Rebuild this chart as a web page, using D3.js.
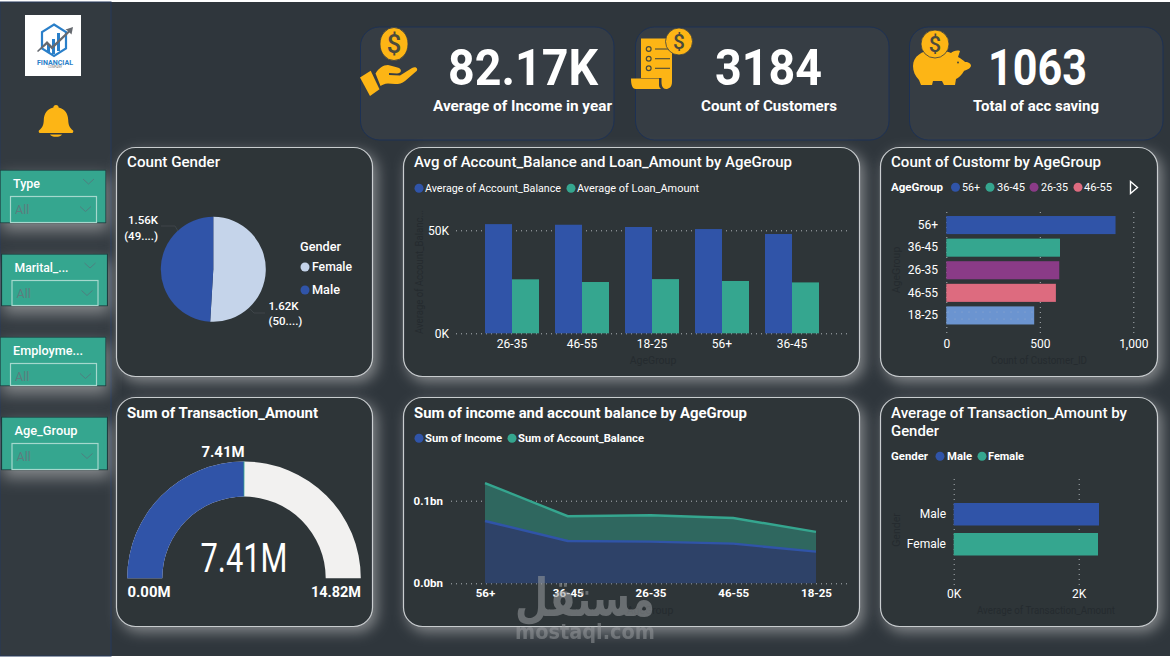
<!DOCTYPE html>
<html>
<head>
<meta charset="utf-8">
<title>Financial dashboard</title>
<script src="https://cdn.jsdelivr.net/npm/d3@7/dist/d3.min.js"></script>
<style>
  html, body { margin: 0; padding: 0; background: #2f363c; overflow: hidden; }
  svg { display: block; font-family: Roboto, "Noto Sans", sans-serif; }
  .domain { display: none; }
</style>
</head>
<body>
<svg id="board" width="1170" height="658"></svg>
<script>
// Dashboard figures
const kpiValues = ["82.17K", "3184", "1063"];
const kpiLabels = ["Average of Income in year", "Count of Customers", "Total of acc saving"];

const slicerNames = ["Type", "Marital_...", "Employme...", "Age_Group"];

const genderNames = ["Female", "Male"];
const genderCounts = [1620, 1560];
const genderCountLabels = ["1.62K", "1.56K"];
const genderShareLabels = ["(50....)", "(49....)"];

const balanceAgeGroups = ["26-35", "46-55", "18-25", "56+", "36-45"];
const avgAccountBalance = [53000, 52700, 51600, 50600, 48200];
const avgLoanAmount = [26200, 24900, 26300, 25400, 24700];

const customerAgeGroups = ["56+", "36-45", "26-35", "46-55", "18-25"];
const customerCounts = [905, 608, 604, 586, 470];

const transactionSum = 7.41;
const transactionMax = 14.82;

const areaAgeGroups = ["56+", "36-45", "26-35", "46-55", "18-25"];
const sumIncome = [0.0754, 0.0512, 0.0504, 0.0480, 0.0383];
const sumBalance = [0.0460, 0.0300, 0.0320, 0.0310, 0.0240];

const transactionGenders = ["Male", "Female"];
const avgTransaction = [2325, 2309];

// Palette
const BLUE = "#3054a8", TEAL = "#35a68f", PURPLE = "#8a3b87", PINK = "#dd6b7f", SKY = "#6b94d0";
const GOLD = "#fdb515", PALE = "#c5d4ea", DIM = "#252b2f", GRID = "#aeb4b8";

const svg = d3.select("#board");
const defs = svg.append("defs");

// Soft light glow that sits behind cards and slicers
const glow = defs.append("filter").attr("id", "glow")
  .attr("x", "-20%").attr("y", "-20%").attr("width", "140%").attr("height", "140%");
glow.append("feDropShadow").attr("dx", 4).attr("dy", 5).attr("stdDeviation", 7)
  .attr("flood-color", "#d8d8d8").attr("flood-opacity", 0.5);

const slicerGlow = defs.append("filter").attr("id", "slicerGlow")
  .attr("x", "-15%").attr("y", "-40%").attr("width", "130%").attr("height", "190%");
slicerGlow.append("feDropShadow").attr("dx", 2).attr("dy", 7).attr("stdDeviation", 8)
  .attr("flood-color", "#d8d8d8").attr("flood-opacity", 0.5);

// Fine dots seen on the lightest bar
const dots = defs.append("pattern").attr("id", "barDots").attr("patternUnits", "userSpaceOnUse")
  .attr("width", 7).attr("height", 7);
dots.append("rect").attr("width", 7).attr("height", 7).attr("fill", SKY);
dots.append("circle").attr("cx", 3).attr("cy", 4).attr("r", 0.6).attr("fill", "#8fa9cf");

// Text helper: w stretches the run to a given width
function label(parent, str, x, y, o = {}) {
  const t = parent.append("text").text(str)
    .attr("x", x).attr("y", y)
    .attr("dominant-baseline", "central")
    .attr("text-anchor", o.anchor || "start")
    .attr("font-size", o.size || 12)
    .attr("font-weight", o.weight || 400)
    .attr("fill", o.fill || "#fff");
  if (o.w) t.attr("textLength", o.w).attr("lengthAdjust", "spacingAndGlyphs");
  if (o.family) t.attr("font-family", o.family);
  if (o.opacity) t.attr("opacity", o.opacity);
  return t;
}

// Legend helper: items are [color, text, dotX, textX, textWidth]
function legend(items, y, o = {}) {
  items.forEach(([color, text, dotX, textX, w]) => {
    svg.append("circle").attr("cx", dotX).attr("cy", y).attr("r", o.r || 4.5).attr("fill", color);
    label(svg, text, textX, y, { size: o.size || 11.5, weight: o.weight || 400, w });
  });
}

function card(x, y, w, h) {
  svg.append("rect").attr("x", x).attr("y", y).attr("width", w).attr("height", h)
    .attr("rx", 19).attr("fill", "#2d3439").attr("stroke", "#c9cdcf").attr("stroke-width", 1.2)
    .attr("filter", "url(#glow)");
}

// Page frame
svg.append("rect").attr("width", 1170).attr("height", 658).attr("fill", "#2f363c");
svg.append("rect").attr("width", 1170).attr("height", 2).attr("fill", "#fff");
svg.append("rect").attr("y", 656).attr("width", 1170).attr("height", 2).attr("fill", "#fff");
svg.append("rect").attr("x", 0).attr("y", 2).attr("width", 111).attr("height", 654)
  .attr("fill", "#333a40").attr("stroke", "#27385a").attr("stroke-width", 1);

// Logo tile
const logo = svg.append("g");
logo.append("rect").attr("x", 25).attr("y", 15).attr("width", 56).attr("height", 61).attr("fill", "#fff");
logo.append("polygon").attr("points", "54,24.5 66,32 66,48.5 54,56 42,48.5 42,32")
  .attr("fill", "none").attr("stroke", "#2a7fc9").attr("stroke-width", 2.2);
logo.append("path").attr("d", "M47 44h3v9h-3zM52 39h3v15h-3zM57 33h3v18h-3z").attr("fill", "#2a7fc9");
logo.append("path").attr("d", "M37 51L47 41L52 46L68 31L65.5 29.5L73 27L71.5 34.5L69.5 32.5L52 49.5L47 44.5L38 52Z").attr("fill", "#666a70");
label(logo, "FINANCIAL", 55, 62, { anchor: "middle", size: 7.5, weight: 700, fill: "#2a7fc9", w: 36 });
label(logo, "COMPANY", 55, 67, { anchor: "middle", size: 3, fill: "#777" });

// Bell
svg.append("path").attr("fill", GOLD)
  .attr("d", "M56 105a2.6 2.6 0 0 1 2.6 2.6c6.6 1.4 9.4 6.5 9.6 12.4c.2 5 1.2 7.7 4.9 10.4c.6 1.3 -.1 2.6 -1.6 2.6h-31c-1.5 0 -2.2 -1.3 -1.6 -2.6c3.7 -2.7 4.7 -5.4 4.9 -10.4c.2 -5.9 3 -11 9.6 -12.4a2.6 2.6 0 0 1 2.6 -2.6zM50 134.5h12c-.8 1.7 -3.2 2.3 -6 2.3s-5.2 -.6 -6 -2.3z");

// Slicers
const slicerBoxes = [[0, 170, 53], [1.5, 254, 52], [0, 337, 49], [1.5, 417, 53]];
const slicerLabelWidths = [27, 54, 70, 63];
slicerNames.forEach((name, i) => {
  const [x, y, h] = slicerBoxes[i];
  svg.append("rect").attr("x", x).attr("y", y).attr("width", 106).attr("height", h)
    .attr("fill", TEAL).attr("stroke", "#1f3a3c").attr("stroke-width", 1.2).attr("filter", "url(#slicerGlow)");
  label(svg, name, x + 13, y + 13, { size: 12.5, weight: 500, w: slicerLabelWidths[i] });
  if (i < 2) {
    svg.append("path").attr("d", `M${x + 83} ${y + 9}l5.5 5l5.5 -5`).attr("fill", "none").attr("stroke", "#4f7f80").attr("stroke-width", 1);
  }
  const by = y + 26.5, bh = h - 27;
  svg.append("rect").attr("x", x + 10.5).attr("y", by).attr("width", 86).attr("height", bh)
    .attr("fill", "none").attr("stroke", "#a5d8cd").attr("stroke-width", 1.2);
  label(svg, "All", x + 15, by + 13, { size: 12.5, fill: "#5c7d7e" });
  svg.append("path").attr("d", `M${x + 80} ${by + 10}l5.5 5l5.5 -5`).attr("fill", "none").attr("stroke", "#4f7f80").attr("stroke-width", 1);
});

// KPI tiles
const kpiBoxes = [360.5, 635.5, 909.5];
const kpiValueSpots = [[448, 150], [715, 107], [988, 99]];
const kpiLabelSpots = [[433, 179], [701, 136], [973, 126]];
kpiValues.forEach((v, i) => {
  svg.append("rect").attr("x", kpiBoxes[i]).attr("y", 27).attr("width", 253.5).attr("height", 113)
    .attr("rx", 19).attr("fill", "#363d44").attr("stroke", "#1d3154").attr("stroke-width", 1);
  label(svg, v, kpiValueSpots[i][0], 68, { size: 50, weight: 700, w: kpiValueSpots[i][1] });
  label(svg, kpiLabels[i], kpiLabelSpots[i][0], 106, { size: 14.5, weight: 700, w: kpiLabelSpots[i][1] });
});

// Coin shared by the three KPI icons
function coin(cx, cy, rx, ry) {
  svg.append("ellipse").attr("cx", cx).attr("cy", cy).attr("rx", rx).attr("ry", ry)
    .attr("fill", GOLD).attr("stroke", "#363d44").attr("stroke-width", 0.8);
  label(svg, "$", cx, cy, { anchor: "middle", size: ry * 1.55, weight: 500, fill: "#4a4a3c" });
}
// Open hand
coin(394, 44, 14, 16.5);
svg.append("path").attr("fill", GOLD).attr("d", "M360 77.5L370.7 70.7L379.5 89.3L370 96Z");
svg.append("path").attr("fill", GOLD).attr("d", "M375.5 73.5C379 68 383 65 388 65C392 66 396 67 399 68C402 69.5 401.5 73.5 397 73.5L389 73L389 75L400 75.5L412 68C416 65.5 419 69 416 71.5L405 81C402 83.5 399 84 395 84L388 83.5C384.5 83.5 382 85 380.5 86Z");
// Receipt scroll
svg.append("path").attr("fill", GOLD).attr("d", "M641 38.5H672V82C672 87 669 89 666 89C663 89 661.5 86 661.5 82V78H641Z");
svg.append("path").attr("fill", GOLD).attr("d", "M631 78.5H659V85C659 87 660 88 661 89H636C632 89 631 84 631 78.5Z");
[49, 58.7, 68.3].forEach(y => {
  svg.append("circle").attr("cx", 648.7).attr("cy", y).attr("r", 2.4).attr("fill", "none").attr("stroke", "#4a4a3c").attr("stroke-width", 1.2);
  svg.append("line").attr("x1", 655).attr("x2", 670).attr("y1", y).attr("y2", y).attr("stroke", "#4a4a3c").attr("stroke-width", 1.1);
});
coin(679, 41.5, 13.5, 13.5);
// Piggy bank
svg.append("path").attr("fill", GOLD).attr("d", "M913 66C913 56 922 51 932 50C940 49 948 52 951 53C953 51 957 50 960 51L958 57C962 59 964 61 965 62C969 62 971 64 971 66C970 69 966 70 964 71C962 75 958 78 956 79L955 85H944L942 81H933L932 85H921L919 80C915 76 913 71 913 66Z");
svg.append("circle").attr("cx", 958).attr("cy", 62.5).attr("r", 1).attr("fill", "#4a4a3c");
coin(935, 44, 14, 14);

// Count Gender card: pie
card(116.5, 147.5, 256, 229);
label(svg, "Count Gender", 127, 162, { size: 14.5, weight: 500, w: 93 });
const pieGroup = svg.append("g").attr("transform", "translate(213.3,269.3)");
const pieArcs = d3.pie().sort(null)(genderCounts);
const pieColors = [PALE, BLUE];
pieGroup.selectAll("path").data(pieArcs).join("path")
  .attr("d", d3.arc().innerRadius(0).outerRadius(52.5))
  .attr("fill", (d, i) => pieColors[i]);
svg.append("path").attr("d", "M161 226H175L178 231").attr("fill", "none").attr("stroke", "#3e4549");
svg.append("path").attr("d", "M250 309L254 313H265").attr("fill", "none").attr("stroke", "#3e4549");
label(svg, genderCountLabels[1], 158, 220, { anchor: "end", size: 11.5, weight: 500 });
label(svg, genderShareLabels[1], 158, 236, { anchor: "end", size: 11.5, weight: 500 });
label(svg, genderCountLabels[0], 268.5, 306, { size: 11.5, weight: 500 });
label(svg, genderShareLabels[0], 268.5, 321, { size: 11.5, weight: 500 });
label(svg, "Gender", 300, 247, { size: 12, weight: 500, w: 41 });
legend([[PALE, genderNames[0], 305, 312, 40]], 267, { size: 12, weight: 500 });
legend([[BLUE, genderNames[1], 305, 312, 28]], 290, { size: 12, weight: 500 });

// Grid lines and tick text drawn through d3 axes
function styleGrid(g) {
  g.selectAll(".tick line").attr("stroke", GRID).attr("stroke-width", 1).attr("stroke-dasharray", "1 4");
  g.selectAll("text").remove();
}
function styleTicks(g, o = {}) {
  g.selectAll(".tick line").remove();
  g.selectAll("text").attr("fill", "#fff").attr("font-size", o.size || 12).attr("font-weight", o.weight || 400)
    .attr("font-family", "Roboto, sans-serif");
}

// Average balance and loan: grouped columns
card(403.5, 147.5, 456, 229);
label(svg, "Avg of Account_Balance and Loan_Amount by AgeGroup", 414, 162, { size: 14.5, weight: 500, w: 378 });
legend([[BLUE, "Average of Account_Balance", 419, 425, 136], [TEAL, "Average of Loan_Amount", 571, 577, 122]], 188.3);

const colX = d3.scaleBand().domain(balanceAgeGroups).range([477, 827]).paddingInner(0.2286).paddingOuter(0.1143);
const colInner = d3.scaleBand().domain(["balance", "loan"]).range([0, colX.bandwidth()]);
const colY = d3.scaleLinear().domain([0, 50000]).range([333.3, 230.3]);
svg.append("g").attr("transform", "translate(456,0)")
  .call(d3.axisLeft(colY).tickValues([0, 50000]).tickSize(-394)).call(styleGrid);
svg.append("g").selectAll("rect").data(balanceAgeGroups).join("rect")
  .attr("x", d => colX(d) + colInner("balance")).attr("width", colInner.bandwidth())
  .attr("y", (d, i) => colY(avgAccountBalance[i])).attr("height", (d, i) => colY(0) - colY(avgAccountBalance[i]))
  .attr("fill", BLUE);
svg.append("g").selectAll("rect").data(balanceAgeGroups).join("rect")
  .attr("x", d => colX(d) + colInner("loan")).attr("width", colInner.bandwidth())
  .attr("y", (d, i) => colY(avgLoanAmount[i])).attr("height", (d, i) => colY(0) - colY(avgLoanAmount[i]))
  .attr("fill", TEAL);
svg.append("g").attr("transform", "translate(449,0)")
  .call(d3.axisLeft(colY).tickValues([0, 50000]).tickFormat(d => d / 1000 + "K").tickSize(0).tickPadding(0)).call(styleTicks);
svg.append("g").attr("transform", "translate(0,339.5)")
  .call(d3.axisBottom(colX).tickSize(0).tickPadding(0)).call(styleTicks);
label(svg, "AgeGroup", 653, 360, { anchor: "middle", size: 10.5, fill: DIM });
label(svg, "Average of Account_Balanc...", 0, 0, { anchor: "middle", size: 10.5, fill: DIM, w: 124 })
  .attr("transform", "translate(419,272) rotate(-90)");

// Customers per age group: horizontal bars
card(880.5, 147.5, 277, 229);
label(svg, "Count of Customr by AgeGroup", 891, 162, { size: 14.5, weight: 500, w: 210 });
label(svg, "AgeGroup", 891, 187.3, { size: 11.5, weight: 700, w: 52 });
legend([[BLUE, customerAgeGroups[0], 955.5, 962, 18], [TEAL, customerAgeGroups[1], 990, 997, 28],
        [PURPLE, customerAgeGroups[2], 1034, 1041, 27], [PINK, customerAgeGroups[3], 1078, 1084, 28]], 187.3);
svg.append("path").attr("d", "M1130.5 181.5L1137.5 187.5L1130.5 193.5Z").attr("fill", "none").attr("stroke", "#fff").attr("stroke-width", 1.4);

const custX = d3.scaleLinear().domain([0, 1000]).range([946.3, 1133.3]);
const custY = d3.scaleBand().domain(customerAgeGroups).range([211.5, 329]).padding(0.2);
const custColors = [BLUE, TEAL, PURPLE, PINK, "url(#barDots)"];
svg.append("g").attr("transform", "translate(0,333)")
  .call(d3.axisBottom(custX).tickValues([0, 500, 1000]).tickSize(-123)).call(styleGrid);
svg.append("g").selectAll("rect").data(customerAgeGroups).join("rect")
  .attr("x", custX(0)).attr("y", d => custY(d)).attr("height", custY.bandwidth())
  .attr("width", (d, i) => custX(customerCounts[i]) - custX(0))
  .attr("fill", (d, i) => custColors[i]);
svg.append("g").attr("transform", "translate(938,0)")
  .call(d3.axisLeft(custY).tickSize(0).tickPadding(0)).call(styleTicks);
svg.append("g").attr("transform", "translate(0,339.5)")
  .call(d3.axisBottom(custX).tickValues([0, 500, 1000]).tickFormat(d3.format(",")).tickSize(0).tickPadding(0)).call(styleTicks);
label(svg, "Count of Customer_ID", 1039, 360, { anchor: "middle", size: 10.5, fill: DIM, w: 96 });
label(svg, "AgeGroup", 0, 0, { anchor: "middle", size: 10.5, fill: DIM })
  .attr("transform", "translate(896,270) rotate(-90)");

// Transaction total: gauge
card(116.5, 397.5, 256, 229);
label(svg, "Sum of Transaction_Amount", 127, 413, { size: 14.5, weight: 700, w: 191 });
const gaugeAngle = d3.scaleLinear().domain([0, transactionMax]).range([-Math.PI / 2, Math.PI / 2]);
const gaugeArc = d3.arc().innerRadius(81.7).outerRadius(116.8);
const gauge = svg.append("g").attr("transform", "translate(244,578.3)");
gauge.append("path").attr("fill", "#f2f1f0")
  .attr("d", gaugeArc({ startAngle: gaugeAngle(0), endAngle: gaugeAngle(transactionMax) }));
gauge.append("path").attr("fill", BLUE)
  .attr("d", gaugeArc({ startAngle: gaugeAngle(0), endAngle: gaugeAngle(transactionSum) }));
gauge.append("path").attr("fill", TEAL)
  .attr("d", gaugeArc({ startAngle: gaugeAngle(transactionSum) - 0.004, endAngle: gaugeAngle(transactionSum) + 0.004 }));
const fmtM = v => v.toFixed(2) + "M";
label(svg, fmtM(transactionSum), 223, 452, { anchor: "middle", size: 14.5, weight: 700, w: 43 });
label(svg, fmtM(transactionSum), 244, 558, { anchor: "middle", size: 40, weight: 400, w: 87 });
label(svg, fmtM(0), 127.5, 592, { size: 14.5, weight: 700, w: 43 });
label(svg, fmtM(transactionMax), 361, 592, { anchor: "end", size: 14.5, weight: 700, w: 50 });

// Income and balance: stacked area
card(403.5, 397.5, 456, 229);
label(svg, "Sum of income and account balance by AgeGroup", 414, 413, { size: 14.5, weight: 700, w: 333 });
legend([[BLUE, "Sum of Income", 419, 425, 77], [TEAL, "Sum of Account_Balance", 512, 518, 126]], 438.3, { weight: 700 });

const areaX = d3.scalePoint().domain(areaAgeGroups).range([485, 816]);
const areaY = d3.scaleLinear().domain([0, 0.1]).range([583.3, 500.7]);
const areaRows = areaAgeGroups.map((g, i) => ({ group: g, income: sumIncome[i], balance: sumBalance[i] }));
const layers = d3.stack().keys(["income", "balance"])(areaRows);
const areaGen = d3.area().x(d => areaX(d.data.group)).y0(d => areaY(d[0])).y1(d => areaY(d[1]));
const topLine = d3.line().x(d => areaX(d.data.group)).y(d => areaY(d[1]));
svg.append("g").attr("transform", "translate(451,0)")
  .call(d3.axisLeft(areaY).tickValues([0, 0.1]).tickSize(-399)).call(styleGrid);
const areaFills = ["#2e4268", "#2f675f"], areaLines = [BLUE, TEAL];
svg.append("g").selectAll("path").data(layers).join("path").attr("d", areaGen).attr("fill", (d, i) => areaFills[i]);
svg.append("g").selectAll("path").data(layers).join("path").attr("d", topLine)
  .attr("fill", "none").attr("stroke", (d, i) => areaLines[i]).attr("stroke-width", 2.4);
svg.append("g").attr("transform", "translate(443,0)")
  .call(d3.axisLeft(areaY).tickValues([0, 0.1]).tickFormat(d => d.toFixed(1) + "bn").tickSize(0).tickPadding(0))
  .call(g => styleTicks(g, { weight: 700, size: 11.5 }));
svg.append("g").attr("transform", "translate(0,589)")
  .call(d3.axisBottom(areaX).tickSize(0).tickPadding(0))
  .call(g => styleTicks(g, { weight: 700, size: 11.5 }));
label(svg, "AgeGroup", 650, 610, { anchor: "middle", size: 10.5, fill: DIM });

// Average transaction by gender: horizontal bars
card(880.5, 397.5, 277, 229);
label(svg, "Average of Transaction_Amount by", 891, 413, { size: 14.5, weight: 500, w: 236 });
label(svg, "Gender", 891, 431, { size: 14.5, weight: 500, w: 48 });
label(svg, "Gender", 891, 456, { size: 11.5, weight: 700, w: 37 });
legend([[BLUE, "Male", 940, 947, 25], [TEAL, "Female", 982, 988, 36]], 456.3, { weight: 700 });

const genX = d3.scaleLinear().domain([0, 2000]).range([953.7, 1078.7]);
const genY = d3.scaleBand().domain(transactionGenders).range([495.5, 563]).padding(0.25);
svg.append("g").attr("transform", "translate(0,585)")
  .call(d3.axisBottom(genX).tickValues([0, 2000]).tickSize(-107)).call(styleGrid);
svg.append("g").selectAll("rect").data(transactionGenders).join("rect")
  .attr("x", genX(0)).attr("y", d => genY(d)).attr("height", genY.bandwidth())
  .attr("width", (d, i) => genX(avgTransaction[i]) - genX(0))
  .attr("fill", (d, i) => [BLUE, TEAL][i]);
svg.append("g").attr("transform", "translate(946,0)")
  .call(d3.axisLeft(genY).tickSize(0).tickPadding(0)).call(styleTicks);
svg.append("g").attr("transform", "translate(0,589.5)")
  .call(d3.axisBottom(genX).tickValues([0, 2000]).tickFormat(d => d / 1000 + "K").tickSize(0).tickPadding(0)).call(styleTicks);
label(svg, "Average of Transaction_Amount", 1046, 610, { anchor: "middle", size: 10.5, fill: DIM, w: 138 });
label(svg, "Gender", 0, 0, { anchor: "middle", size: 10.5, fill: DIM })
  .attr("transform", "translate(896,530) rotate(-90)");

// Site stamp across the lower middle
label(svg, "مستقل", 585, 598, { anchor: "middle", size: 52, weight: 700, family: "'DejaVu Sans'", fill: "#9a9da0", opacity: 0.55, w: 140 });
label(svg, "mostaql.com", 585, 632, { anchor: "middle", size: 21, weight: 700, family: "'DejaVu Sans'", fill: "#9a9da0", opacity: 0.5, w: 140 });
</script>
</body>
</html>
